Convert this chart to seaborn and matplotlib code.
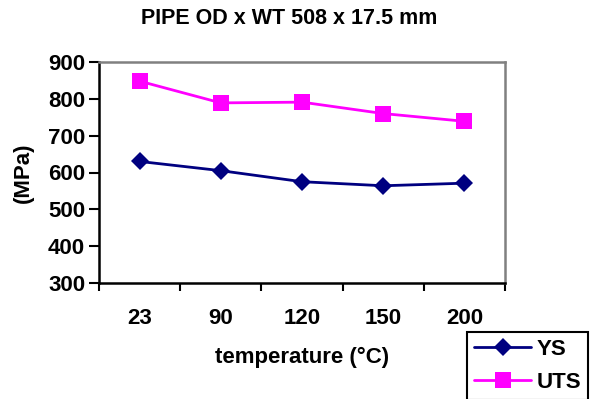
import matplotlib
matplotlib.use("Agg")
import matplotlib.pyplot as plt
import seaborn as sns
import pandas as pd
from matplotlib.ticker import FixedLocator

temperatures = ["23", "90", "120", "150", "200"]
ys_values = [630, 605, 575, 564, 571]
uts_values = [848, 789, 791, 760, 739]

sns.set_style("white")
plt.rcParams['font.family'] = ['Liberation Sans', 'DejaVu Sans']
plt.rcParams['text.color'] = 'black'
plt.rcParams['axes.labelcolor'] = 'black'
plt.rcParams['xtick.color'] = 'black'
plt.rcParams['ytick.color'] = 'black'

df = pd.DataFrame({
    "temperature": temperatures * 2,
    "value": ys_values + uts_values,
    "series": ["YS"] * len(temperatures) + ["UTS"] * len(temperatures),
})

fig = plt.figure(figsize=(5.91, 3.99), dpi=100)
ax = fig.add_axes([99 / 591, 1 - 283 / 399, (505 - 99) / 591, (283 - 62) / 399])

sns.lineplot(data=df, x="temperature", y="value", hue="series", style="series",
             palette={"YS": "#000080", "UTS": "#FF00FF"},
             markers={"YS": "D", "UTS": "s"}, dashes=False, markersize=10,
             linewidth=2, markeredgewidth=0, ax=ax, legend=False)
for line in ax.lines:
    if line.get_marker() == "s":
        line.set_markersize(11)
    else:
        line.set_markersize(9.5)

ax.set_xlim(-0.5, len(temperatures) - 0.5)
ax.set_ylim(300, 900)
ax.set_yticks([300, 400, 500, 600, 700, 800, 900])
ax.set_xticks(range(len(temperatures)))
ax.set_xticklabels(temperatures)
ax.xaxis.set_minor_locator(FixedLocator([i - 0.5 for i in range(len(temperatures) + 1)]))
ax.tick_params(axis="x", which="major", bottom=False, length=0, pad=18, labelsize=16, labelcolor="black")
ax.tick_params(axis="x", which="minor", bottom=True, length=6, width=1.5, color="black", direction="out")
ax.tick_params(axis="y", which="major", left=True, length=7, width=1.5, color="black", direction="out",
               labelsize=16, pad=3, labelcolor="black")
for lbl in ax.get_xticklabels() + ax.get_yticklabels():
    lbl.set_fontweight("bold")

for side in ["left", "bottom"]:
    ax.spines[side].set_color("black")
    ax.spines[side].set_linewidth(1.8)
for side in ["top", "right"]:
    ax.spines[side].set_color("#808080")
    ax.spines[side].set_linewidth(1.8)

ax.set_xlabel("temperature (°C)", fontsize=16, fontweight="bold", labelpad=13, color="black")
ax.set_ylabel("(MPa)", fontsize=16, fontweight="bold", labelpad=10, color="black")

fig.text(289 / 591, 1 - 18 / 399, "PIPE OD x WT 508 x 17.5 mm", ha="center", va="center",
         fontsize=15.5, fontweight="bold", color="black")

handles = [l for l in ax.lines[:2]]
labels = ["YS", "UTS"]
leg = fig.legend(handles, labels, loc="upper left", bbox_to_anchor=(467 / 591, 1 - 332 / 399),
                 frameon=True, fancybox=False, edgecolor="black", framealpha=1,
                 prop={"size": 16, "weight": "bold"}, handlelength=2.6, handletextpad=0.25,
                 borderpad=0.3, labelspacing=0.55, borderaxespad=0)
leg.get_frame().set_linewidth(1.5)
for t in leg.get_texts():
    t.set_color("black")

fig.savefig("out.png", dpi=100)
